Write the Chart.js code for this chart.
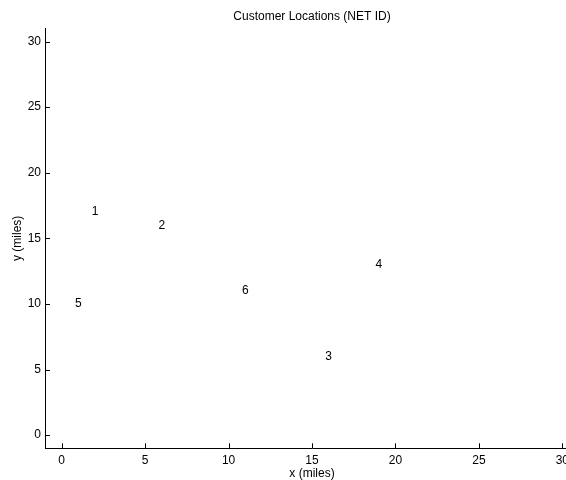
<!DOCTYPE html>
<html>
<head>
<meta charset="utf-8">
<script src="https://cdn.jsdelivr.net/npm/chart.js@4"></script>
<style>
  html, body { margin: 0; padding: 0; overflow: hidden; background: #fff; }
</style>
</head>
<body>
<canvas id="grafico" width="624" height="480"></canvas>
<script>
// customer ids and coordinates (miles)
var customerIds = ["1", "2", "3", "4", "5", "6"];
var customerX = [2, 6, 16, 19, 1, 11];
var customerY = [17, 16, 6, 13, 10, 11];
var xTicks = [0, 5, 10, 15, 20, 25, 30];
var yTicks = [0, 5, 10, 15, 20, 25, 30];

var puntos = customerX.map(function (x, i) {
    return { x: x, y: customerY[i] };
});

var fuente = "'Liberation Sans', Arial, sans-serif";

// write each customer id at its location, centred like MATLAB text()
var etiquetasPlugin = {
    id: "etiquetas",
    afterDatasetsDraw: function (chart) {
        var ctx = chart.ctx;
        var meta = chart.getDatasetMeta(0);
        ctx.save();
        ctx.font = "12px " + fuente;
        ctx.fillStyle = "#000";
        ctx.textAlign = "center";
        ctx.textBaseline = "middle";
        meta.data.forEach(function (p, i) {
            ctx.fillText(customerIds[i], p.x, p.y);
        });
        ctx.restore();
    }
};

// inward tick marks
var marcasPlugin = {
    id: "marcas",
    afterDraw: function (chart) {
        var ctx = chart.ctx;
        var sx = chart.scales.x, sy = chart.scales.y;
        var area = chart.chartArea;
        ctx.save();
        ctx.strokeStyle = "#000";
        ctx.lineWidth = 1;
        ctx.beginPath();
        xTicks.forEach(function (v) {
            var px = Math.round(sx.getPixelForValue(v)) + 0.5;
            ctx.moveTo(px, area.bottom);
            ctx.lineTo(px, area.bottom - 5);
        });
        yTicks.forEach(function (v) {
            var py = Math.round(sy.getPixelForValue(v)) + 0.5;
            ctx.moveTo(area.left, py);
            ctx.lineTo(area.left + 5, py);
        });
        ctx.stroke();
        ctx.restore();
    }
};

document.addEventListener("DOMContentLoaded", function () {
    var ctx = document.getElementById("grafico").getContext("2d");
    var myChart = new Chart(ctx, {
        type: "scatter",
        data: {
            datasets: [{
                data: puntos,
                pointRadius: 0,
                pointHoverRadius: 0,
                showLine: false
            }]
        },
        options: {
            responsive: false,
            animation: false,
            layout: { padding: { left: 0, right: 45, top: 0, bottom: 0 } },
            plugins: {
                legend: { display: false },
                tooltip: { enabled: false },
                title: {
                    display: true,
                    fullSize: false,
                    text: "Customer Locations (NET ID)",
                    color: "#000",
                    font: { family: fuente, size: 12, weight: "normal" },
                    padding: { top: 9, bottom: 5 }
                }
            },
            scales: {
                x: {
                    type: "linear",
                    min: -1,
                    max: 31,
                    afterBuildTicks: function (scale) {
                        scale.ticks = xTicks.map(function (v) { return { value: v }; });
                    },
                    afterFit: function (scale) { scale.height = 31.7; },
                    grid: { drawOnChartArea: false, drawTicks: false },
                    border: { display: true, color: "#000", width: 1 },
                    ticks: {
                        color: "#000",
                        padding: 5,
                        maxRotation: 0,
                        font: { family: fuente, size: 12 }
                    },
                    title: {
                        display: true,
                        text: "x (miles)",
                        color: "#000",
                        font: { family: fuente, size: 12, lineHeight: 1 },
                        padding: { top: 0, bottom: 0 }
                    }
                },
                y: {
                    type: "linear",
                    min: -1,
                    max: 31,
                    afterBuildTicks: function (scale) {
                        scale.ticks = yTicks.map(function (v) { return { value: v }; });
                    },
                    afterFit: function (scale) { scale.width = 45; },
                    grid: { drawOnChartArea: false, drawTicks: false },
                    border: { display: true, color: "#000", width: 1 },
                    ticks: {
                        color: "#000",
                        padding: 4,
                        font: { family: fuente, size: 12 }
                    },
                    title: {
                        display: true,
                        text: "y (miles)",
                        color: "#000",
                        font: { family: fuente, size: 12 },
                        padding: { top: 10, bottom: 0 }
                    }
                }
            }
        },
        plugins: [etiquetasPlugin, marcasPlugin]
    });
});
</script>
</body>
</html>
